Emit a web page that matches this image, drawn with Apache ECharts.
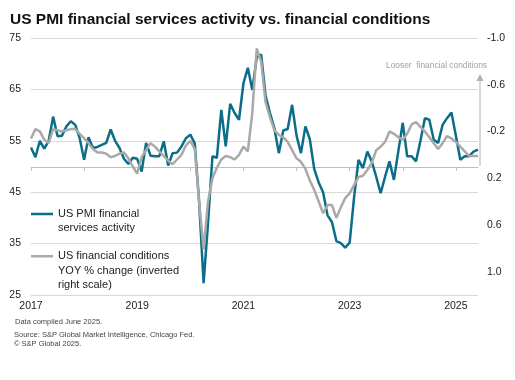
<!DOCTYPE html>
<html><head><meta charset="utf-8">
<script src="https://cdn.jsdelivr.net/npm/echarts@6/dist/echarts.min.js"></script>
<style>html,body{margin:0;padding:0;background:#fff}#c{width:515px;height:380px}</style>
</head><body><div id="c"></div>
<script>
// Monthly categories Jan 2017 - Jun 2025
const months = [];
for (let y = 2017; y <= 2025; y++) {
  for (let m = 1; m <= 12; m++) {
    if (y === 2025 && m > 6) break;
    months.push(y + '-' + String(m).padStart(2, '0'));
  }
}
const yearLabelsEvery = 24; // label every 2 years
const pmiName = 'US PMI financial\nservices activity';
const fcName = 'US financial conditions\nYOY % change (inverted\nright scale)';

const pmiFinancial = [
  53.7,51.8,55.0,53.5,55.0,59.7,55.9,56.0,57.8,58.8,58.1,55.5,
  51.3,55.7,53.6,53.8,54.2,54.6,57.2,55.0,53.6,51.5,50.5,51.7,
  51.5,49.0,54.6,52.1,52.0,52.0,54.9,50.2,52.6,52.7,53.9,55.5,
  56.2,54.5,43.0,27.3,39.0,52.0,51.7,61.0,53.9,62.2,60.4,59.1,
  66.2,69.2,64.9,71.2,71.8,63.8,60.4,57.4,52.6,57.0,57.3,62.0,
  56.0,52.6,57.8,55.3,49.5,46.9,45.0,40.5,39.2,35.5,35.1,34.2,
  35.2,44.0,51.3,49.7,52.9,51.0,48.0,44.8,48.0,51.0,47.4,53.0,
  58.5,52.0,52.0,51.0,55.0,59.4,59.1,55.2,54.6,58.1,59.4,60.5,
  56.0,51.3,52.0,52.0,52.9,53.3
];
const financialConditions = [
  -0.14,-0.22,-0.20,-0.13,-0.10,-0.22,-0.21,-0.20,-0.21,-0.22,-0.22,-0.18,
  -0.14,-0.10,-0.05,-0.02,-0.02,-0.01,0.02,0.01,-0.01,-0.02,0.03,0.10,
  0.16,0.02,-0.04,-0.10,-0.07,-0.03,0.01,0.05,0.08,0.04,0.00,-0.08,
  -0.12,-0.05,0.41,0.81,0.40,0.20,0.11,0.04,0.01,0.02,0.04,0.00,
  -0.07,-0.03,-0.36,-0.91,-0.80,-0.45,-0.32,-0.21,-0.17,-0.15,-0.11,-0.04,
  0.03,0.06,0.12,0.22,0.30,0.40,0.50,0.43,0.43,0.54,0.45,0.37,
  0.33,0.26,0.19,0.18,0.13,0.07,-0.04,-0.07,-0.11,-0.20,-0.18,-0.15,
  -0.13,-0.18,-0.26,-0.28,-0.24,-0.20,-0.15,-0.10,-0.05,-0.10,-0.16,-0.14,
  -0.11,-0.07,-0.03,0.01,0.01,0.01
];
const leftAxis = { min: 25, max: 75, interval: 10 };
const rightAxis = { min: -1.0, max: 1.2, interval: 0.4 };

const FONT = '"Liberation Sans", Arial, sans-serif';
const teal = '#0b6d89';
const grey = '#a9a9a9';

// pad legend text with blank lines above so the icon sits beside the first line
const padTop = (name) => {
  const n = name.split('\n').length;
  return ' \n'.repeat(n - 1) + name;
};

const chart = echarts.init(document.getElementById('c'), null, { renderer: 'canvas' });
chart.setOption({
  animation: false,
  backgroundColor: '#fff',
  textStyle: { fontFamily: FONT },
  title: [
    { text: 'US PMI financial services activity vs. financial conditions', left: 10, top: 12, padding: 0,
      textStyle: { fontFamily: FONT, fontSize: 15.5, fontWeight: 'bold', color: '#111' } },
    { text: 'Data compiled June 2025.', left: 15, top: 318, padding: 0,
      textStyle: { fontFamily: FONT, fontSize: 7.5, fontWeight: 'normal', color: '#444' } },
    { text: 'Source: S&P Global Market Intelligence, Chicago Fed.\n© S&P Global 2025.', left: 14, top: 330, padding: 0,
      textStyle: { fontFamily: FONT, fontSize: 7.5, fontWeight: 'normal', color: '#444', lineHeight: 9.5 } }
  ],
  grid: { left: 31, right: 37, top: 38, bottom: 85, containLabel: false },
  legend: [
    { data: [pmiName], left: 31, top: 193, padding: 0, icon: 'rect', itemWidth: 22, itemHeight: 2.5,
      formatter: padTop,
      textStyle: { fontFamily: FONT, fontSize: 11, color: '#222', lineHeight: 14 } },
    { data: [fcName], left: 31, top: 220, padding: 0, icon: 'rect', itemWidth: 22, itemHeight: 2.5,
      formatter: padTop,
      textStyle: { fontFamily: FONT, fontSize: 11, color: '#222', lineHeight: 14.5 } }
  ],
  xAxis: [
    { type: 'category', data: months, boundaryGap: false,
      axisLine: { show: false }, axisTick: { show: false },
      axisLabel: { interval: (i) => i % yearLabelsEvery === 0, formatter: (v) => v.slice(0, 4),
        fontFamily: FONT, fontSize: 10.5, color: '#222', margin: 6 },
      splitLine: { show: false } },
    { type: 'category', data: months, boundaryGap: false, position: 'bottom', offset: -128,
      axisLine: { show: true, onZero: false, lineStyle: { color: '#bfbfbf', width: 1 } },
      axisTick: { show: true, interval: (i) => i % 12 === 0, length: 4, inside: false, lineStyle: { color: '#bfbfbf' } },
      axisLabel: { show: false }, splitLine: { show: false } }
  ],
  yAxis: [
    { type: 'value', min: leftAxis.min, max: leftAxis.max, interval: leftAxis.interval,
      axisLine: { show: false }, axisTick: { show: false },
      axisLabel: { fontFamily: FONT, fontSize: 10.5, color: '#222', margin: 10 },
      splitLine: { lineStyle: { color: '#d9d9d9', width: 1 } } },
    { type: 'value', min: rightAxis.min, max: rightAxis.max, interval: rightAxis.interval, inverse: true,
      position: 'right',
      axisLine: { show: false }, axisTick: { show: false }, splitLine: { show: false },
      axisLabel: { fontFamily: FONT, fontSize: 10.5, color: '#222', margin: 9,
        formatter: (v) => Math.abs(v - rightAxis.max) < 1e-6 ? '' : v.toFixed(1) } }
  ],
  series: [
    { name: pmiName, type: 'line', data: pmiFinancial, xAxisIndex: 0, yAxisIndex: 0,
      symbol: 'none', showSymbol: false, lineStyle: { color: teal, width: 2.5 }, itemStyle: { color: teal } },
    { name: fcName, type: 'line', data: financialConditions, xAxisIndex: 0, yAxisIndex: 1,
      symbol: 'none', showSymbol: false, lineStyle: { color: grey, width: 2.5 }, itemStyle: { color: grey } }
  ],
  graphic: [
    { type: 'text', left: 386, top: 62,
      style: { text: 'Looser  financial conditions', fill: '#a0a0a0', font: '8.4px ' + FONT } },
    { type: 'line', shape: { x1: 480, y1: 166, x2: 480, y2: 80 }, style: { stroke: '#b0b0b0', lineWidth: 1 } },
    { type: 'polygon', shape: { points: [[476.5, 81], [483.5, 81], [480, 74]] }, style: { fill: '#b0b0b0' } }
  ]
});
</script></body></html>
